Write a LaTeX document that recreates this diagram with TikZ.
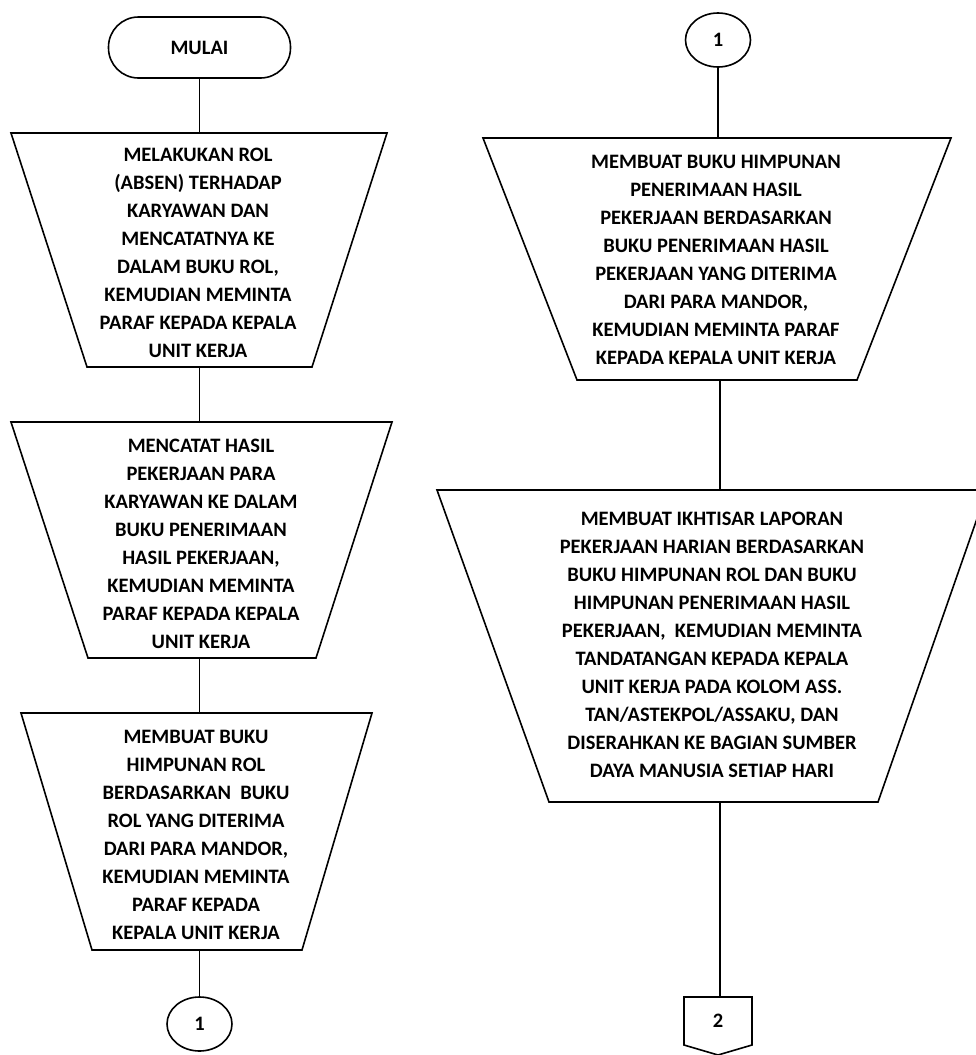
\documentclass[tikz,border=0pt]{standalone}
\usepackage{fontspec}
\setmainfont{Carlito}
\usetikzlibrary{shapes.geometric}
\begin{document}
\begin{tikzpicture}[x=1pt,y=-1pt,
  flow/.style={line width=1.6pt},
  shapeline/.style={draw,line width=1.6pt,line join=miter},
  txt/.style={font=\bfseries\fontsize{20.5}{28}\selectfont,align=center,inner sep=0pt},
  connector/.style={shapeline,ellipse,minimum width=65pt,minimum height=54pt,inner sep=0pt,txt},
]
\useasboundingbox (0,0) rectangle (976,1055);

% ---------- left column ----------
\node[shapeline,rounded corners=30pt,minimum width=182pt,minimum height=61pt,txt] (start) at (199.5,47.5) {MULAI};

% manual operation 1
\draw[shapeline] (11,133) -- (387,133) -- (312,367) -- (87,367) -- cycle;
\coordinate (a1top) at (199.5,133);
\coordinate (a1bot) at (199.5,367);
\node[txt] (a1) at (198,253) {MELAKUKAN ROL\\(ABSEN) TERHADAP\\KARYAWAN DAN\\MENCATATNYA KE\\DALAM BUKU ROL,\\KEMUDIAN MEMINTA\\PARAF KEPADA KEPALA\\UNIT KERJA};

% manual operation 2
\draw[shapeline] (11,422) -- (392,422) -- (316,658) -- (88,658) -- cycle;
\coordinate (a2top) at (199.5,422);
\coordinate (a2bot) at (199.5,658);
\node[txt] (a2) at (201,544) {MENCATAT HASIL\\PEKERJAAN PARA\\KARYAWAN KE DALAM\\BUKU PENERIMAAN\\HASIL PEKERJAAN,\\KEMUDIAN MEMINTA\\PARAF KEPADA KEPALA\\UNIT KERJA};

% manual operation 3
\draw[shapeline] (21,713) -- (372,713) -- (302,950) -- (92,950) -- cycle;
\coordinate (a3top) at (199.5,713);
\coordinate (a3bot) at (199.5,950);
\node[txt] (a3) at (196,835) {MEMBUAT BUKU\\HIMPUNAN ROL\\BERDASARKAN\ \ BUKU\\ROL YANG DITERIMA\\DARI PARA MANDOR,\\KEMUDIAN MEMINTA\\PARAF KEPADA\\KEPALA UNIT KERJA};

\node[connector] (c1a) at (199.5,1024) {1};

\draw[flow] (start.south) -- (a1top);
\draw[flow] (a1bot) -- (a2top);
\draw[flow] (a2bot) -- (a3top);
\draw[flow] (a3bot) -- (c1a.north);

% ---------- right column ----------
\node[connector] (c1b) at (718,40) {1};

% manual operation 4
\draw[shapeline] (483,138) -- (951,138) -- (857,380) -- (577,380) -- cycle;
\coordinate (b1top) at (718,138);
\coordinate (b1bot) at (720,380);
\node[txt] (b1) at (716,259.5) {MEMBUAT BUKU HIMPUNAN\\PENERIMAAN HASIL\\PEKERJAAN BERDASARKAN\\BUKU PENERIMAAN HASIL\\PEKERJAAN YANG DITERIMA\\DARI PARA MANDOR,\\KEMUDIAN MEMINTA PARAF\\KEPADA KEPALA UNIT KERJA};

% manual operation 5
\draw[shapeline] (437,490) -- (987,490) -- (878,802) -- (549,802) -- cycle;
\coordinate (b2top) at (720,490);
\coordinate (b2bot) at (720,802);
\node[txt] (b2) at (712,644.5) {MEMBUAT IKHTISAR LAPORAN\\PEKERJAAN HARIAN BERDASARKAN\\BUKU HIMPUNAN ROL DAN BUKU\\HIMPUNAN PENERIMAAN HASIL\\PEKERJAAN,\ \ KEMUDIAN MEMINTA\\TANDATANGAN KEPADA KEPALA\\UNIT KERJA PADA KOLOM ASS.\\TAN/ASTEKPOL/ASSAKU, DAN\\DISERAHKAN KE BAGIAN SUMBER\\DAYA MANUSIA SETIAP HARI};

% off-page connector
\draw[shapeline] (684,997) -- (752,997) -- (752,1045) -- (718,1055) -- (684,1045) -- cycle;
\coordinate (c2top) at (720,997);
\node[txt] (c2) at (718,1021) {2};

\draw[flow] (c1b.south) -- (b1top);
\draw[flow] (b1bot) -- (b2top);
\draw[flow] (b2bot) -- (c2top);
\end{tikzpicture}
\end{document}
